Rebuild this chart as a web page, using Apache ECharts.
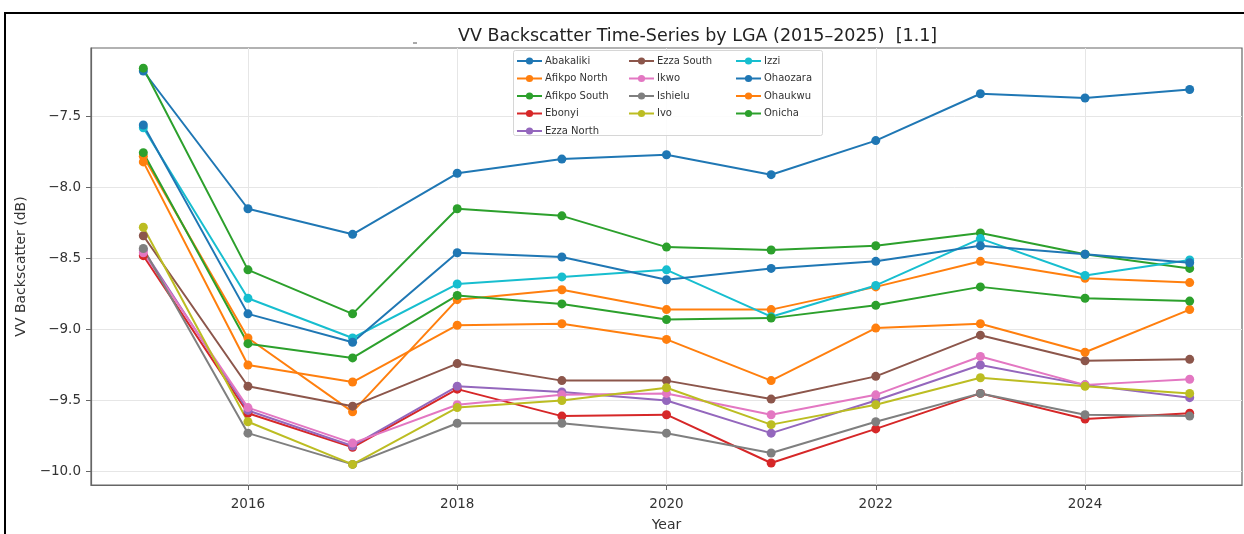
<!DOCTYPE html>
<html>
<head>
<meta charset="utf-8">
<script src="https://cdn.jsdelivr.net/npm/echarts@6/dist/echarts.min.js"></script>
<style>
  html, body { margin: 0; padding: 0; background: #fff; }
  #chart { width: 1244px; height: 534px; }
</style>
</head>
<body>
<div id="chart"></div>
<script>
// Mean VV backscatter (dB) per LGA, one value per year 2015–2025
const years = [2015, 2016, 2017, 2018, 2019, 2020, 2021, 2022, 2023, 2024, 2025];

const lgaNames = ['Abakaliki', 'Afikpo North', 'Afikpo South', 'Ebonyi', 'Ezza North',
  'Ezza South', 'Ikwo', 'Ishielu', 'Ivo', 'Izzi', 'Ohaozara', 'Ohaukwu', 'Onicha'];

const abakaliki   = [-7.18, -8.15, -8.33, -7.90, -7.80, -7.77, -7.91, -7.67, -7.34, -7.37, -7.31];
const afikpoNorth = [-7.78, -9.06, -9.58, -8.79, -8.72, -8.86, -8.86, -8.70, -8.52, -8.64, -8.67];
const afikpoSouth = [-7.16, -8.58, -8.89, -8.15, -8.20, -8.42, -8.44, -8.41, -8.32, -8.47, -8.57];
const ebonyi      = [-8.48, -9.59, -9.83, -9.42, -9.61, -9.60, -9.94, -9.70, -9.45, -9.63, -9.59];
const ezzaNorth   = [-8.44, -9.57, -9.82, -9.40, -9.44, -9.50, -9.73, -9.50, -9.25, -9.39, -9.48];
const ezzaSouth   = [-8.34, -9.40, -9.54, -9.24, -9.36, -9.36, -9.49, -9.33, -9.04, -9.22, -9.21];
const ikwo        = [-8.46, -9.55, -9.80, -9.53, -9.46, -9.45, -9.60, -9.46, -9.19, -9.39, -9.35];
const ishielu     = [-8.43, -9.73, -9.95, -9.66, -9.66, -9.73, -9.87, -9.65, -9.45, -9.60, -9.61];
const ivo         = [-8.28, -9.65, -9.95, -9.55, -9.50, -9.41, -9.67, -9.53, -9.34, -9.40, -9.45];
const izzi        = [-7.58, -8.78, -9.06, -8.68, -8.63, -8.58, -8.91, -8.69, -8.36, -8.62, -8.51];
const ohaozara    = [-7.56, -8.89, -9.09, -8.46, -8.49, -8.65, -8.57, -8.52, -8.41, -8.47, -8.53];
const ohaukwu     = [-7.82, -9.25, -9.37, -8.97, -8.96, -9.07, -9.36, -8.99, -8.96, -9.16, -8.86];
const onicha      = [-7.755, -9.10, -9.20, -8.76, -8.82, -8.93, -8.92, -8.83, -8.70, -8.78, -8.80];

const lgaValues = [abakaliki, afikpoNorth, afikpoSouth, ebonyi, ezzaNorth, ezzaSouth,
  ikwo, ishielu, ivo, izzi, ohaozara, ohaukwu, onicha];

const xTicks = [2016, 2018, 2020, 2022, 2024];
const yTicks = [-10.0, -9.5, -9.0, -8.5, -8.0, -7.5];

const palette = ['#1f77b4', '#ff7f0e', '#2ca02c', '#d62728', '#9467bd', '#8c564b',
  '#e377c2', '#7f7f7f', '#bcbd22', '#17becf', '#1f77b4', '#ff7f0e', '#2ca02c'];

const FONT = 'DejaVu Sans';

const series = lgaNames.map((name, i) => ({
  name: name,
  type: 'line',
  data: years.map((y, j) => [y, lgaValues[i][j]]),
  symbol: 'circle',
  symbolSize: 9,
  lineStyle: { width: 2, color: palette[i] },
  itemStyle: { color: palette[i] },
  emphasis: { disabled: true },
  z: 3
}));

const legendColumns = [
  { names: lgaNames.slice(0, 5), left: 516 },
  { names: lgaNames.slice(5, 9), left: 628 },
  { names: lgaNames.slice(9), left: 735 }
];

const chart = echarts.init(document.getElementById('chart'), null, { renderer: 'canvas' });

chart.setOption({
  animation: false,
  backgroundColor: '#fff',
  title: {
    text: 'VV Backscatter Time-Series by LGA (2015–2025)  [1.1]',
    left: 453,
    top: 22,
    textStyle: { fontFamily: FONT, fontSize: 17.5, fontWeight: 'normal', color: '#222' }
  },
  legend: legendColumns.map(col => ({
    data: col.names,
    orient: 'vertical',
    left: col.left,
    top: 56,
    itemWidth: 25,
    itemHeight: 9,
    itemGap: 7.5,
    padding: 0,
    selectedMode: false,
    textStyle: { fontFamily: FONT, fontSize: 10, color: '#333', padding: [0, 0, 0, -2] }
  })),
  grid: {
    left: 91,
    top: 48,
    right: 2,
    bottom: 49,
    outerBoundsMode: 'none',
    containLabel: false,
    show: true,
    borderColor: '#666',
    borderWidth: 1.2,
    backgroundColor: 'transparent'
  },
  xAxis: {
    type: 'value',
    min: 2014.5,
    max: 2025.5,
    name: 'Year',
    nameLocation: 'middle',
    nameGap: 33,
    nameTextStyle: { fontFamily: FONT, fontSize: 14, color: '#333' },
    axisLine: { show: true, lineStyle: { color: '#666', width: 1.2 } },
    axisTick: { show: true, customValues: xTicks, length: 5, lineStyle: { color: '#666' } },
    axisLabel: {
      customValues: xTicks,
      formatter: v => String(v),
      fontFamily: FONT, fontSize: 13.5, color: '#333', margin: 12
    },
    splitLine: { show: true, lineStyle: { color: '#e6e6e6', width: 1 } }
  },
  yAxis: {
    type: 'value',
    min: -10.095,
    max: -7.018,
    name: 'VV Backscatter (dB)',
    nameLocation: 'middle',
    nameGap: 63,
    nameTextStyle: { fontFamily: FONT, fontSize: 14, color: '#333' },
    axisLine: { show: true, lineStyle: { color: '#666', width: 1.2 } },
    axisTick: { show: true, customValues: yTicks, length: 5, lineStyle: { color: '#666' } },
    axisLabel: {
      customValues: yTicks,
      formatter: v => v.toFixed(1).replace('-', '\u2212'),
      fontFamily: FONT, fontSize: 13.5, color: '#333', margin: 10
    },
    splitLine: { show: true, lineStyle: { color: '#e6e6e6', width: 1 } }
  },
  graphic: [
    {
      type: 'rect',
      shape: { x: 5, y: 13, width: 1400, height: 700 },
      style: { fill: 'none', stroke: '#000', lineWidth: 2 },
      silent: true,
      z: 100
    },
    {
      type: 'rect',
      shape: { x: 513.5, y: 50.5, width: 309, height: 85, r: 2 },
      style: { fill: 'rgba(255,255,255,0.85)', stroke: '#d6d6d6', lineWidth: 1 },
      silent: true,
      z: 4
    },
    {
      type: 'line',
      shape: { x1: 413, y1: 43, x2: 417, y2: 43 },
      style: { stroke: '#555', lineWidth: 1 },
      silent: true
    }
  ],
  series: series
});
</script>
</body>
</html>
